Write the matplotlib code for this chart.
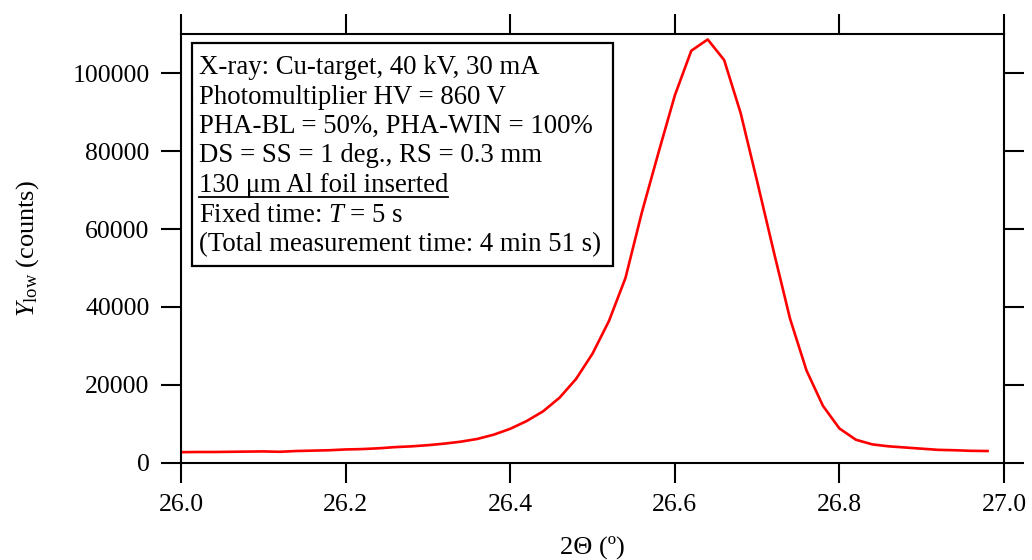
import matplotlib
matplotlib.use("Agg")
import matplotlib.pyplot as plt
from matplotlib.patches import Rectangle
from matplotlib.lines import Line2D

two_theta = [26.00, 26.02, 26.04, 26.06, 26.08, 26.10, 26.12, 26.14, 26.16, 26.18,
             26.20, 26.22, 26.24, 26.26, 26.28, 26.30, 26.32, 26.34, 26.36, 26.38,
             26.40, 26.42, 26.44, 26.46, 26.48, 26.50, 26.52, 26.54, 26.56, 26.58,
             26.60, 26.62, 26.64, 26.66, 26.68, 26.70, 26.72, 26.74, 26.76, 26.78,
             26.80, 26.82, 26.84, 26.86, 26.88, 26.90, 26.92, 26.94, 26.96, 26.98]
counts = [2700, 2750, 2750, 2800, 2850, 2900, 2800, 3000, 3100, 3200,
          3400, 3500, 3700, 4000, 4200, 4500, 4900, 5400, 6100, 7200,
          8700, 10700, 13200, 16700, 21500, 28000, 36400, 47400, 64300, 79500,
          94300, 105800, 108700, 103400, 89800, 72300, 54400, 37000, 23700, 14600,
          8800, 5900, 4700, 4200, 3900, 3600, 3300, 3200, 3050, 3000]

x_ticks = [26.0, 26.2, 26.4, 26.6, 26.8, 27.0]
x_ticklabels = ["26.0", "26.2", "26.4", "26.6", "26.8", "27.0"]
y_ticks = [0, 20000, 40000, 60000, 80000, 100000]
y_ticklabels = ["0", "20000", "40000", "60000", "80000", "100000"]

info_lines = [
    "X-ray: Cu-target, 40 kV, 30 mA",
    "Photomultiplier HV = 860 V",
    "PHA-BL = 50%, PHA-WIN = 100%",
    "DS = SS = 1 deg., RS = 0.3 mm",
    "130 \u03bcm Al foil inserted",
    "Fixed time: $T$ = 5 s",
    "(Total measurement time: 4 min 51 s)",
]
underlined_line = 4

plt.rcParams["font.family"] = ["Liberation Serif", "DejaVu Serif"]
plt.rcParams["mathtext.fontset"] = "custom"
plt.rcParams["mathtext.rm"] = "Liberation Serif"
plt.rcParams["mathtext.it"] = "Liberation Serif:italic"
plt.rcParams["mathtext.bf"] = "Liberation Serif:bold"

W, H = 1032, 560
fig = plt.figure(figsize=(W / 100, H / 100), dpi=100)
ax = fig.add_axes([181 / W, 1 - 462.7 / H, (1004 - 181) / W, (462.7 - 34) / H])

ax.plot(two_theta, counts, color="#ff0000", lw=1.9)
ax.set_xlim(26.0, 27.0)
ax.set_ylim(0, 110100)

ax.set_xticks(x_ticks)
ax.set_xticklabels(x_ticklabels)
ax.set_yticks(y_ticks)
ax.set_yticklabels(y_ticklabels)
ax.minorticks_off()
ax.tick_params(axis="both", which="major", direction="out", length=14.5, width=1.5,
               labelsize=18.5, pad=8, top=True, right=True, labeltop=False, labelright=False)
for s in ax.spines.values():
    s.set_linewidth(1.5)

ax.set_xlabel("2\u0398 (\u00ba)", fontsize=19, labelpad=14)
ax.set_ylabel("$Y_{\\mathrm{low}}$ (counts)", fontsize=19, labelpad=23)

# info box (pixel layout -> figure fraction)
def fx(px):
    return px / W

def fy(py):
    return 1 - py / H

box = Rectangle((fx(192), fy(266)), fx(613) - fx(192), fy(42.5) - fy(266),
                transform=fig.transFigure, fill=False, edgecolor="black", lw=1.6, zorder=5)
fig.patches.append(box)

texts = []
for i, line in enumerate(info_lines):
    t = fig.text(fx(199), fy(74 + 29.5 * i), line, fontsize=19.3, ha="left", va="baseline")
    texts.append(t)

fig.canvas.draw()
r = fig.canvas.get_renderer()
bb = texts[underlined_line].get_window_extent(renderer=r)
uy = fy(74 + 29.5 * underlined_line + 5)
fig.lines.append(Line2D([bb.x0 / W, bb.x1 / W], [uy, uy], transform=fig.transFigure,
                        color="black", lw=1.3))

fig.savefig("out.png", dpi=100)
